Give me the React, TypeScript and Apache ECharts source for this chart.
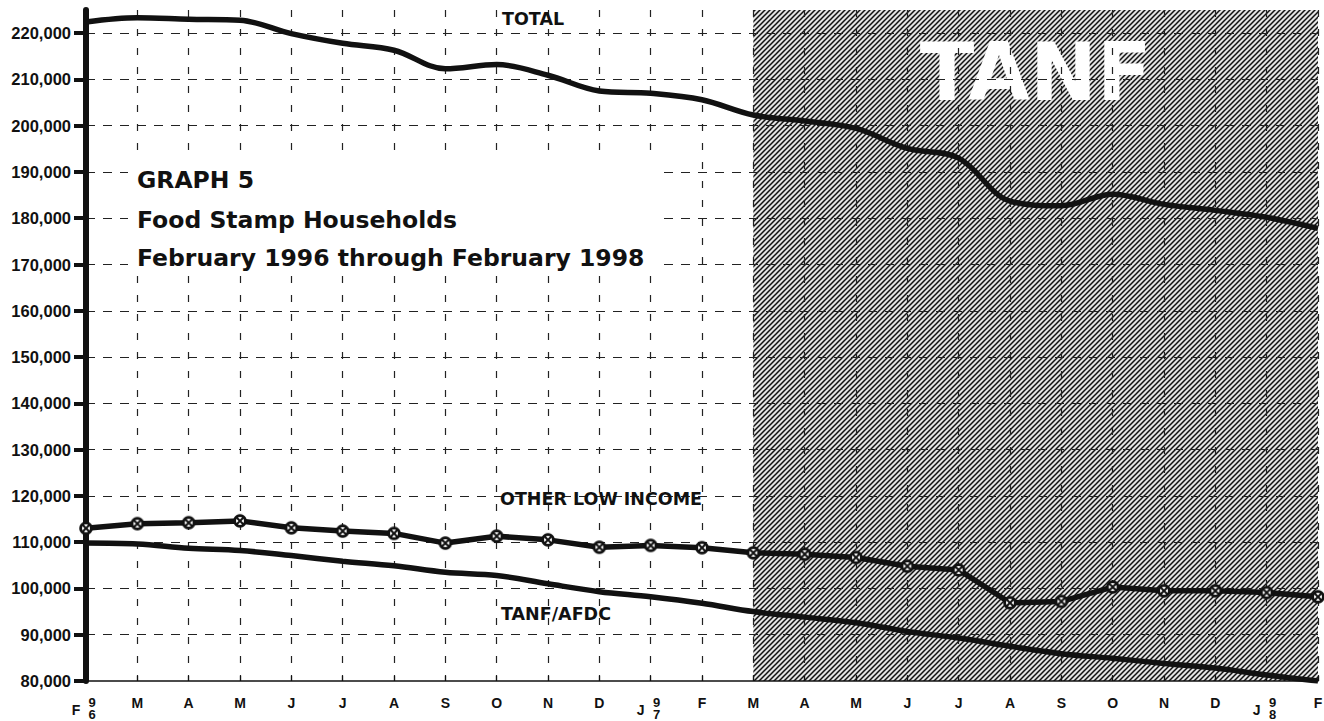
import React, { useEffect, useRef } from 'react';
import * as echarts from 'echarts';

// ---- data ----
const months = ['F', 'M', 'A', 'M', 'J', 'J', 'A', 'S', 'O', 'N', 'D', 'J', 'F', 'M', 'A', 'M', 'J', 'J', 'A', 'S', 'O', 'N', 'D', 'J', 'F'];
const yearTicks = [
  { index: 0, digits: ['9', '6'] },
  { index: 11, digits: ['9', '7'] },
  { index: 23, digits: ['9', '8'] },
];
const totalHouseholds = [222400, 223300, 223000, 222800, 219900, 217800, 216300, 212300, 213200, 210900, 207500, 207000, 205600, 202300, 201000, 199400, 195100, 193000, 183700, 182700, 185200, 183000, 181700, 180200, 177800];
const otherLowIncome = [113000, 114000, 114200, 114600, 113100, 112400, 111900, 109800, 111300, 110500, 108900, 109300, 108800, 107700, 107400, 106700, 104800, 104000, 96900, 97200, 100300, 99500, 99500, 99100, 98200];
const tanfAfdc = [109800, 109600, 108700, 108200, 107100, 105900, 104900, 103500, 102800, 101000, 99300, 98200, 96800, 95000, 93800, 92600, 90700, 89300, 87500, 85900, 84900, 83800, 82800, 81300, 80000];
const yMin = 80000;
const yMax = 225000;
const yInterval = 10000;
const tanfStartIndex = 13;
const tanfEndIndex = 24;
const tanfLabel = 'TANF';
const titleLines = ['GRAPH 5', 'Food Stamp Households', 'February 1996 through February 1998'];
const seriesNames = ['TOTAL', 'OTHER LOW INCOME', 'TANF/AFDC'];

const INK = '#111111';

function makeHatch(): HTMLCanvasElement {
  const c = document.createElement('canvas');
  c.width = 5;
  c.height = 5;
  const ctx = c.getContext('2d')!;
  ctx.fillStyle = '#e4e4e4';
  ctx.fillRect(0, 0, 5, 5);
  ctx.strokeStyle = '#111111';
  ctx.lineWidth = 1.5;
  ctx.beginPath();
  ctx.moveTo(-1, 6); ctx.lineTo(6, -1);
  ctx.moveTo(-1, 1); ctx.lineTo(1, -1);
  ctx.moveTo(4, 6); ctx.lineTo(6, 4);
  ctx.stroke();
  return c;
}

function makeMarker(): string {
  const c = document.createElement('canvas');
  c.width = 28;
  c.height = 28;
  const ctx = c.getContext('2d')!;
  ctx.fillStyle = INK;
  ctx.beginPath(); ctx.arc(14, 14, 13.5, 0, Math.PI * 2); ctx.fill();
  ctx.fillStyle = '#ffffff';
  ctx.beginPath(); ctx.arc(14, 14, 8, 0, Math.PI * 2); ctx.fill();
  ctx.strokeStyle = INK;
  ctx.lineWidth = 4;
  ctx.beginPath();
  ctx.moveTo(8, 8); ctx.lineTo(20, 20);
  ctx.moveTo(20, 8); ctx.lineTo(8, 20);
  ctx.stroke();
  return c.toDataURL();
}

function yearAt(i: number) {
  return yearTicks.find((y) => y.index === i);
}

export default function App() {
  const ref = useRef<HTMLDivElement>(null);

  useEffect(() => {
    if (!ref.current) return;
    const chart = echarts.init(ref.current, undefined, { renderer: 'svg' });
    const hatch = makeHatch();
    const marker = makeMarker();
    const labelFont = { fontFamily: 'Liberation Sans', fontWeight: 'bold' as const, color: INK };
    const heavy = 'DejaVu Sans';
    const seriesLabelStyle = { fontFamily: heavy, fontWeight: 'bold', fontSize: 17.5, fill: INK, verticalAlign: 'middle' };
    const titleStyle = { fontFamily: heavy, fontWeight: 'bold', fontSize: 23.5, fill: INK, verticalAlign: 'middle' };

    const option: any = {
      animation: false,
      grid: { left: 86, right: 6, top: 10, bottom: 40, containLabel: false, outerBoundsMode: 'none' },
      xAxis: [
        {
          type: 'category',
          data: months,
          boundaryGap: false,
          axisLine: { onZero: false, lineStyle: { color: INK, width: 1.5 } },
          axisTick: { show: true, inside: true, length: 5, interval: 0, lineStyle: { color: INK, width: 1.2 } },
          axisLabel: {
            ...labelFont,
            fontSize: 14,
            margin: 15,
            interval: 0,
            formatter: (v: string, i: number) => {
              const y = yearAt(i);
              return y ? `{d|${y.digits[0]}}\n{d|${y.digits[1]}}` : v;
            },
            rich: {
              d: { ...labelFont, fontSize: 13, lineHeight: 12.5, padding: [0, 0, 0, 12] },
            },
          },
          splitLine: { show: true, interval: 0, lineStyle: { type: [7, 12], color: '#222', width: 1.2 } },
        },
        {
          type: 'category',
          data: months,
          boundaryGap: false,
          position: 'bottom',
          axisLine: { show: false },
          axisTick: { show: false },
          splitLine: { show: false },
          axisLabel: {
            ...labelFont,
            fontSize: 14,
            margin: 15,
            interval: 0,
            formatter: (v: string, i: number) => (yearAt(i) ? `{m|${v}}` : ''),
            rich: {
              m: { ...labelFont, fontSize: 14, padding: [7, 20, 0, 0] },
            },
          },
        },
      ],
      yAxis: {
        type: 'value',
        min: yMin,
        max: yMax,
        interval: yInterval,
        axisLine: { show: true, lineStyle: { color: INK, width: 6 } },
        axisTick: { show: true, length: 12, lineStyle: { color: INK, width: 4 } },
        axisLabel: {
          ...labelFont,
          fontSize: 16.5,
          margin: 15,
          showMaxLabel: false,
          formatter: (v: number) => v.toLocaleString('en-US'),
        },
        splitLine: {
          show: true,
          showMaxLine: false,
          showMinLine: false,
          lineStyle: { type: [9, 8], color: '#222', width: 1.2 },
        },
      },
      series: [
        {
          type: 'line',
          name: 'hatch',
          data: [],
          z: -1,
          silent: true,
          markArea: {
            z: -1,
            silent: true,
            itemStyle: { color: { image: hatch, repeat: 'repeat', imageWidth: 5, imageHeight: 5 } },
            label: {
              show: true,
              position: 'insideTop',
              distance: 22,
              formatter: tanfLabel,
              color: '#ffffff',
              fontFamily: heavy,
              fontWeight: 'bold',
              fontSize: 80,
            },
            data: [[{ xAxis: tanfStartIndex }, { xAxis: tanfEndIndex }]],
          },
        },
        {
          type: 'line',
          name: seriesNames[0],
          data: totalHouseholds,
          smooth: 0.35,
          symbol: 'none',
          lineStyle: { color: INK, width: 5.5 },
          z: 3,
        },
        {
          type: 'line',
          name: seriesNames[1],
          data: otherLowIncome,
          symbol: 'image://' + marker,
          symbolSize: 14,
          lineStyle: { color: INK, width: 5.5 },
          itemStyle: { color: INK },
          z: 4,
        },
        {
          type: 'line',
          name: seriesNames[2],
          data: tanfAfdc,
          smooth: 0.35,
          symbol: 'none',
          lineStyle: { color: INK, width: 5.5 },
          z: 3,
        },
      ],
      graphic: [
        { type: 'rect', shape: { x: 128, y: 157, width: 532, height: 118 }, style: { fill: '#ffffff' }, z: 10 },
        { type: 'text', x: 137, y: 180, z: 11, style: { text: titleLines[0], ...titleStyle } },
        { type: 'text', x: 137, y: 220, z: 11, style: { text: titleLines[1], ...titleStyle } },
        { type: 'text', x: 137, y: 258, z: 11, style: { text: titleLines[2], ...titleStyle } },
        { type: 'text', x: 502, y: 19, z: 11, style: { text: seriesNames[0], ...seriesLabelStyle } },
        { type: 'text', x: 500, y: 499, z: 11, style: { text: seriesNames[1], ...seriesLabelStyle } },
        { type: 'text', x: 501, y: 614, z: 11, style: { text: seriesNames[2], ...seriesLabelStyle } },
      ],
    };

    chart.setOption(option);
    return () => chart.dispose();
  }, []);

  return <div ref={ref} style={{ position: 'fixed', left: 0, top: 0, width: 1324, height: 721, background: '#ffffff' }} />;
}
